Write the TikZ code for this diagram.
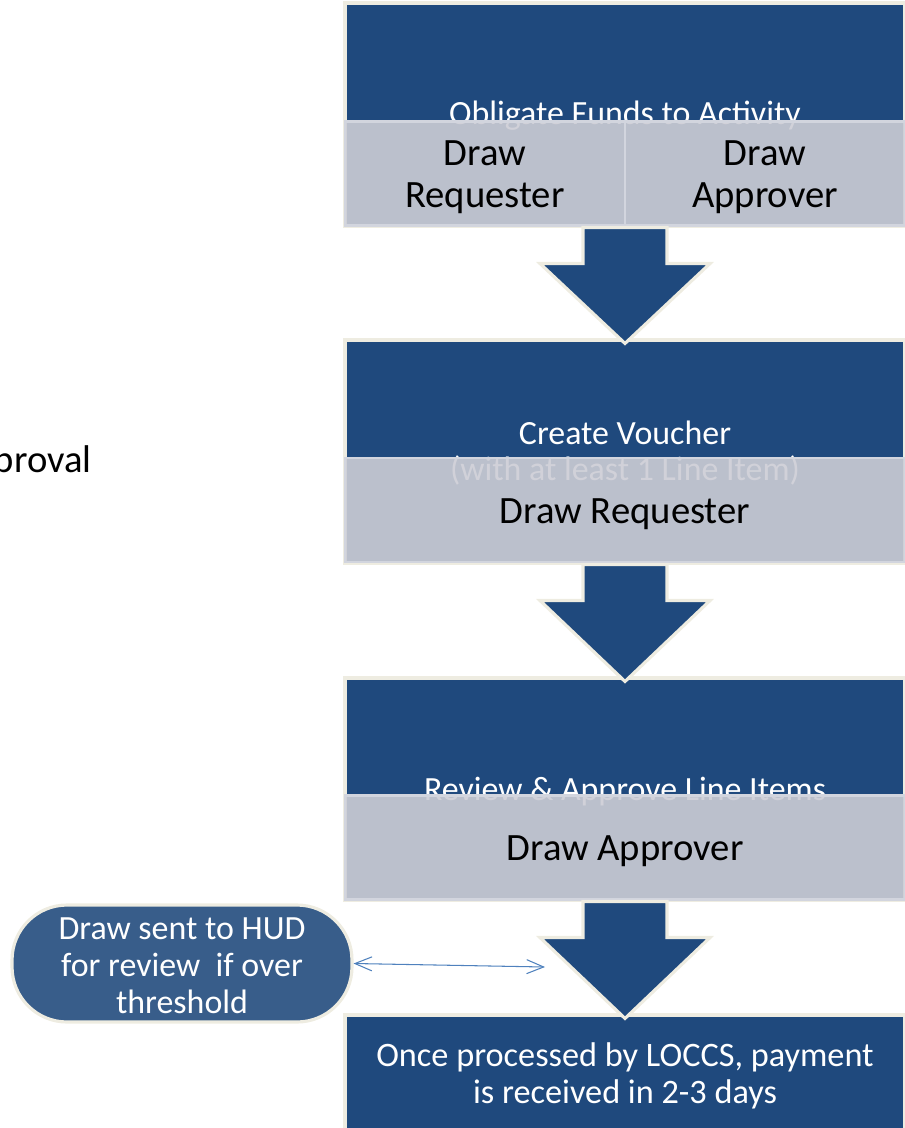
\documentclass[tikz,border=0pt]{standalone}
\usepackage{fontspec}
\setmainfont{Carlito}
\usetikzlibrary{calc,arrows.meta}
\definecolor{stepblue}{RGB}{31,73,125}
\definecolor{cream}{RGB}{238,236,225}
\definecolor{cellgrey}{RGB}{204,205,213}
\definecolor{cellrim}{RGB}{210,213,222}
\definecolor{hudblue}{RGB}{56,93,138}
\definecolor{linkblue}{RGB}{79,129,189}
\tikzset{stepbox/.style={draw=cream, line width=1.8pt, fill=stepblue, minimum width=11.2cm, inner sep=0pt},
  steptext/.style={text=white, font=\fontsize{19.3}{20.5}\selectfont, align=center, inner sep=0pt},
  rolecell/.style={draw=cellrim, line width=1.2pt, fill=cellgrey, fill opacity=0.9, minimum height=2.08cm, inner sep=0pt},
  celltext/.style={align=center, inner sep=0pt, font=\fontsize{22}{23.8}\selectfont},
  flowarrow/.style={draw=cream, line width=1.8pt, fill=stepblue, line join=miter},
  hudnote/.style={draw=cream, line width=1.8pt, fill=hudblue, rounded corners=1.1cm, minimum width=6.8cm, minimum height=2.34cm, inner sep=0pt},
  hudlink/.style={draw=linkblue, line width=0.6pt, {Straight Barb[length=3.4mm,width=2.8mm]}-{Straight Barb[length=3.4mm,width=2.8mm]}}}
\newcommand\stepdown[2]{%
  \draw[flowarrow] ($(#1.south)+(-42,0)$) -- ($(#1.south)+(-42,36)$) -- ($(#1.south)+(-85,36)$)
    -- ($(#2.north)+(0,5)$) -- ($(#1.south)+(85,36)$) -- ($(#1.south)+(42,36)$) -- ($(#1.south)+(42,0)$) -- cycle;}

\begin{document}
\begin{tikzpicture}[x=0.02cm,y=-0.02cm]
  \useasboundingbox (0,0) rectangle (904,1128);

  % step 1
  \node[stepbox, minimum height=4.46cm] (oblig) at (625,114.5) {};
  \node[steptext] (obligtxt) at (625,116) {Obligate Funds to Activity};
  \node[rolecell, minimum width=5.6cm] (oblreq) at (485,173.5) {};
  \node[rolecell, minimum width=5.6cm] (oblapp) at (765,173.5) {};
  \node[celltext] at ($(oblreq.center)+(0,4)$) {Draw\\Requester};
  \node[celltext] at ($(oblapp.center)+(0,4)$) {Draw\\Approver};

  % step 2
  \node[stepbox, minimum height=4.46cm] (voucher) at (625,451.5) {};
  \node[steptext] (vouchtxt) at (625,453) {Create Voucher\\(with at least 1 Line Item)};
  \node[rolecell, minimum width=11.2cm] (vouchreq) at (625,510) {};
  \node[celltext] at ($(vouchreq.center)+(0,4)$) {Draw Requester};

  % step 3
  \node[stepbox, minimum height=4.44cm] (review) at (625,789) {};
  \node[steptext] (reviewtxt) at (625,792) {Review \& Approve Line Items};
  \node[rolecell, minimum width=11.2cm] (reviewapp) at (625,847.5) {};
  \node[celltext] at ($(reviewapp.center)+(0,4)$) {Draw Approver};

  % step 4
  \node[stepbox, minimum height=2.5cm] (paid) at (625,1077.5) {};
  \node[steptext, font=\fontsize{19.5}{21}\selectfont] (paidtxt) at (625,1075.5) {Once processed by LOCCS, payment\\is received in 2-3 days};

  \stepdown{oblig}{voucher}
  \stepdown{voucher}{review}
  \stepdown{review}{paid}

  \node[hudnote] (hud) at (182,963.5) {};
  \node[steptext, font=\fontsize{19.3}{21}\selectfont] (hudtxt) at ($(hud.center)+(0,2)$) {Draw sent to HUD\\for review\ \ if over\\threshold};
  \coordinate (hudtip) at (545,967);
  \draw[hudlink] (hud.east) -- (hudtip);

  \node[anchor=east, inner sep=0pt, font=\fontsize{22}{24}\selectfont] (approval) at (92,462) {proval};
\end{tikzpicture}
\end{document}
